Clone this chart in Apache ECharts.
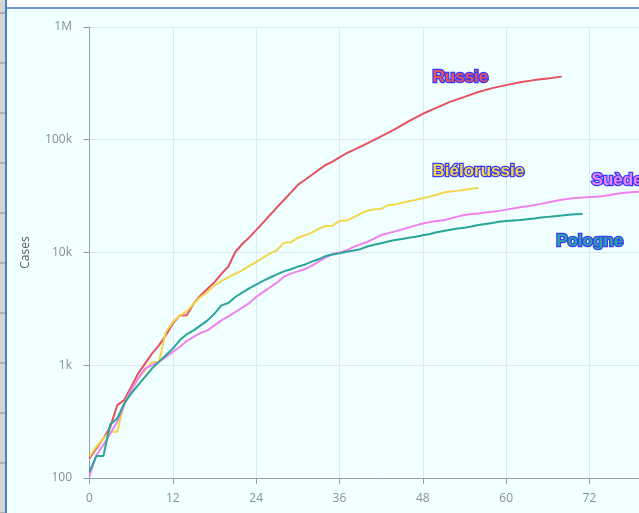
<!DOCTYPE html>
<html>
<head>
<meta charset="utf-8">
<script src="https://cdn.jsdelivr.net/npm/echarts@6/dist/echarts.min.js"></script>
<style>
  html, body { margin: 0; padding: 0; width: 639px; height: 513px; overflow: hidden; background: #ffffff; }
  #chart { position: absolute; left: 0; top: 0; width: 700px; height: 513px; }
  .ov { position: absolute; pointer-events: none; z-index: 10; }
</style>
</head>
<body>
<div id="chart"></div>
<div class="ov" style="left:7px;top:0;width:632px;height:7px;background:#ffffff;"></div>
<div class="ov" style="left:7px;top:7px;width:632px;height:2px;background:#6d96d0;"></div>
<div class="ov" style="left:0;top:0;width:5px;height:513px;background-color:#d5d5d5;
  background-image:linear-gradient(to bottom, #b0b0b0 0px, #b0b0b0 2px, transparent 2px, transparent 50px);
  background-size:5px 50px; background-position:0 62px; background-repeat:repeat-y;"></div>
<div class="ov" style="left:5px;top:0;width:2px;height:513px;background:#4a7fc4;"></div>
<script>
// ---- data ----
var xTicks = [0, 12, 24, 36, 48, 60, 72, 84];
var yTickLabels = { 100: '100', 1000: '1k', 10000: '10k', 100000: '100k', 1000000: '1M' };

var russiaDays = [0,1,2,3,4,5,6,7,8,9,10,11,12,13,14,15,16,17,18,19,20,21,22,23,24,25,26,27,28,29,30,31,32,33,34,35,36,37,38,40,42,44,46,48,50,52,54,56,58,60,62,64,66,68];
var russiaCases = [149,183,224,284,443,490,643,843,1035,1268,1502,1842,2336,2768,2780,3514,4161,4768,5460,6470,7515,10100,11900,13600,15800,18400,21500,25100,29200,34000,39800,44000,48700,54000,59700,64000,69900,75900,81000,93000,107000,124000,146000,170000,193000,218000,240000,265000,287000,305000,324000,338000,350000,363000];

var belarusDays = [0,1,2,3,4,5,6,7,8,9,10,11,12,13,14,15,16,17,18,19,20,21,22,23,24,25,26,27,28,29,30,31,32,33,34,35,36,37,38,39,40,41,42,43,44,45,46,47,48,49,50,51,52,53,54,55,56];
var belarusCases = [155,190,224,257,257,450,600,760,900,1070,1070,1970,2415,2760,3000,3515,4030,4460,5110,5580,6050,6480,6930,7600,8200,9000,9800,10500,12200,12300,13500,14200,15000,16200,17200,17300,19100,19200,20500,22000,23500,24200,24300,26300,26600,27600,28500,29300,30300,31300,32500,34000,34800,35200,36000,36700,37300];

var swedenDays = [0,1,2,3,4,5,6,7,8,9,10,11,12,13,14,15,16,17,18,19,20,21,22,23,24,25,26,27,28,29,30,31,32,33,34,35,36,37,38,39,40,41,42,43,44,45,46,47,48,49,50,51,52,53,54,55,56,57,58,59,60,61,62,63,64,65,66,67,68,69,70,71,72,73,74,75,76,77,78,79,80,81,82];
var swedenCases = [103,160,196,248,315,443,601,762,935,1000,1070,1186,1313,1452,1640,1782,1933,2040,2260,2500,2715,2966,3240,3560,4030,4450,4900,5400,6100,6500,6800,7100,7600,8300,9000,9700,10000,10400,11200,11800,12400,13300,14300,14800,15400,16000,16700,17400,18100,18600,19000,19300,20000,20800,21500,21900,22200,22600,23000,23400,24000,24600,25200,25700,26300,27000,27800,28600,29400,30000,30400,30800,31000,31200,31700,32400,33200,33800,34200,34600,35000,35400,35800];

var polandDays = [0,1,2,3,4,5,6,7,8,9,10,11,12,13,14,15,16,17,18,19,20,21,22,23,24,25,26,27,28,29,30,31,32,33,34,35,36,37,38,39,40,41,42,43,44,45,46,47,48,49,50,51,52,53,54,55,56,57,58,59,60,61,62,63,64,65,66,67,68,69,70,71];
var polandCases = [114,157,157,300,337,458,561,665,788,935,1071,1226,1404,1663,1880,2040,2260,2500,2865,3395,3565,4030,4400,4800,5200,5600,6000,6400,6800,7100,7500,7800,8300,8700,9300,9600,9850,10150,10400,10700,11300,11700,12100,12500,12900,13200,13500,13800,14200,14600,15100,15500,15900,16300,16600,17000,17500,17900,18300,18700,19000,19200,19400,19700,20000,20400,20700,21000,21300,21600,21800,22000];

var seriesNames = ['Russie', 'Biélorussie', 'Suède', 'Pologne'];
var seriesColors = ['#e4525f', '#f2d64b', '#ee82ee', '#2aa59a'];

// ---- build ----
function pairs(xs, ys) { return xs.map(function (x, i) { return [x, ys[i]]; }); }
var allData = [pairs(russiaDays, russiaCases), pairs(belarusDays, belarusCases), pairs(swedenDays, swedenCases), pairs(polandDays, polandCases)];
var labelAnchors = [[49.4, 355000], [49.4, 52000], [72.3, 44000], [67.2, 12500]];

var series = seriesNames.map(function (name, i) {
  return {
    name: name,
    type: 'line',
    data: allData[i],
    showSymbol: false,
    symbol: 'none',
    lineStyle: { color: seriesColors[i], width: 2 },
    itemStyle: { color: seriesColors[i] },
    z: 3,
    markPoint: {
      symbol: 'circle',
      symbolSize: 0,
      silent: true,
      data: [{ coord: labelAnchors[i], value: name }],
      label: {
        show: true,
        position: 'right',
        distance: 0,
        formatter: name,
        color: seriesColors[i],
        fontFamily: 'Liberation Sans, Arial, sans-serif',
        fontWeight: 'bold',
        fontSize: 17,
        textBorderColor: '#3a3aff',
        textBorderWidth: 2.5
      }
    }
  };
});

var chart = echarts.init(document.getElementById('chart'), null, { renderer: 'canvas' });
chart.setOption({
  backgroundColor: '#f0ffff',
  animation: false,
  grid: { left: 86, top: 27, width: 586.8, height: 451, containLabel: false },
  xAxis: {
    type: 'value',
    min: -0.5,
    max: 84,
    axisLine: { show: true, onZero: false, lineStyle: { color: '#9a9ea8', width: 1 } },
    axisTick: { show: true, length: 6, customValues: xTicks, lineStyle: { color: '#9a9ea8' } },
    axisLabel: { customValues: xTicks, margin: 15, color: '#8a8f99', fontSize: 12, fontFamily: 'Open Sans, sans-serif' },
    splitLine: { show: true, lineStyle: { color: '#dfe7f5', width: 1 } }
  },
  yAxis: {
    type: 'log',
    logBase: 10,
    min: 100,
    max: 1000000,
    name: 'Cases',
    nameLocation: 'middle',
    nameGap: 54,
    nameTextStyle: { color: '#5a5e66', fontSize: 12, fontFamily: 'Open Sans, sans-serif' },
    axisLine: { show: true, lineStyle: { color: '#9a9ea8', width: 1 } },
    axisTick: { show: true, length: 6, lineStyle: { color: '#9a9ea8' } },
    axisLabel: {
      margin: 14,
      color: '#8a8f99',
      fontSize: 12,
      fontFamily: 'Open Sans, sans-serif',
      formatter: function (v) { return yTickLabels[Math.round(v)] || ''; }
    },
    splitLine: { show: true, lineStyle: { color: '#dfe7f5', width: 1 } }
  },
  series: series
});
</script>
</body>
</html>
